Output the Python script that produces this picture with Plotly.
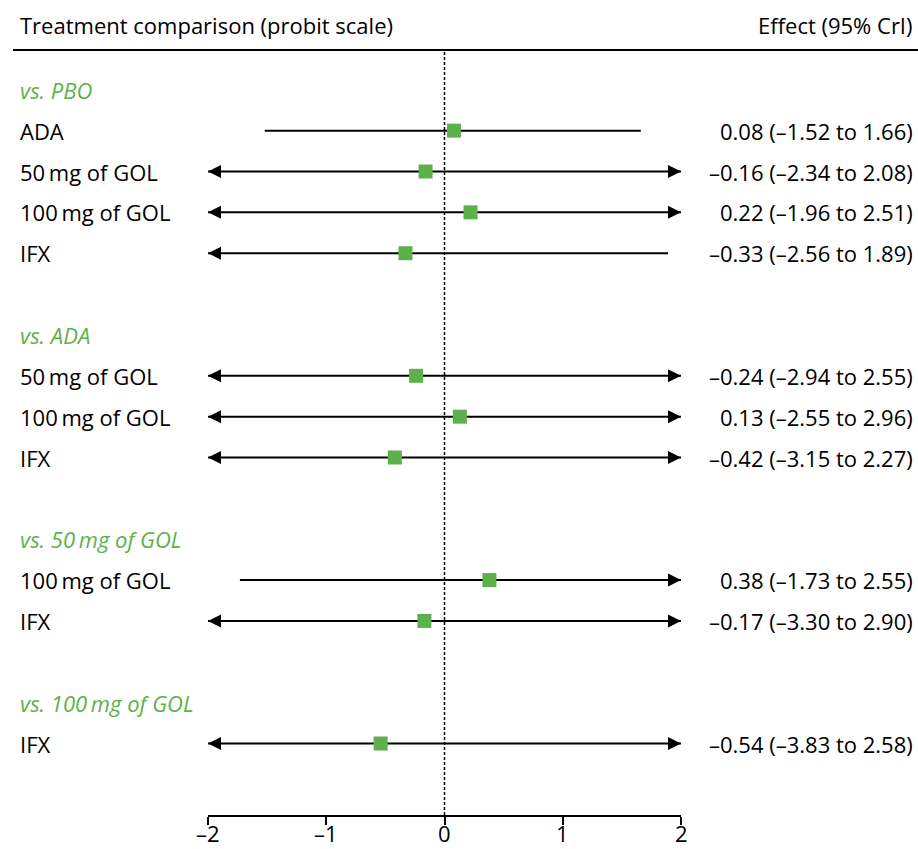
import plotly.graph_objects as go

# ---- data ----
groups = ["vs. PBO", "vs. ADA", "vs. 50\u2009mg of GOL", "vs. 100\u2009mg of GOL"]
group_rows = [0, 6, 11, 15]
labels = ["ADA", "50\u2009mg of GOL", "100\u2009mg of GOL", "IFX",
          "50\u2009mg of GOL", "100\u2009mg of GOL", "IFX",
          "100\u2009mg of GOL", "IFX",
          "IFX"]
rows = [1, 2, 3, 4, 7, 8, 9, 12, 13, 16]
est = [0.08, -0.16, 0.22, -0.33, -0.24, 0.13, -0.42, 0.38, -0.17, -0.54]
lo = [-1.52, -2.34, -1.96, -2.56, -2.94, -2.55, -3.15, -1.73, -3.30, -3.83]
hi = [1.66, 2.08, 2.51, 1.89, 2.55, 2.96, 2.27, 2.55, 2.90, 2.58]
xticks = [-2, -1, 0, 1, 2]
xticktext = ["\u20132", "\u20131", "0", "1", "2"]
xrange_ = [-2, 2]
arrow_cut = 1.95  # intervals reaching beyond this are shown with an arrow

GREEN = "#5DB14A"
FONT = "Open Sans"
FS = 22

W, H = 918, 849
ML, MR, MT, MB = 208, 237, 50, 34


def fmt(v):
    s = f"{abs(v):.2f}"
    return ("\u2013" + s) if v < 0 else s


fig = go.Figure()

# CI lines and arrows
for r, e, a, b in zip(rows, est, lo, hi):
    left_arrow = a < -arrow_cut
    right_arrow = b > arrow_cut
    x0 = xrange_[0] if left_arrow else a
    x1 = xrange_[1] if right_arrow else b
    fig.add_trace(go.Scatter(x=[x0, x1], y=[r, r], mode="lines",
                             line=dict(color="black", width=2),
                             hoverinfo="skip", showlegend=False, cliponaxis=False))
    if left_arrow:
        fig.add_trace(go.Scatter(x=[xrange_[0]], y=[r], mode="markers",
                                 marker=dict(symbol="arrow-left", size=13, color="black"),
                                 hoverinfo="skip", showlegend=False, cliponaxis=False))
    if right_arrow:
        fig.add_trace(go.Scatter(x=[xrange_[1]], y=[r], mode="markers",
                                 marker=dict(symbol="arrow-right", size=13, color="black"),
                                 hoverinfo="skip", showlegend=False, cliponaxis=False))

# point estimates
fig.add_trace(go.Scatter(x=est, y=rows, mode="markers",
                         marker=dict(symbol="square", size=14, color=GREEN, line=dict(width=0)),
                         showlegend=False, cliponaxis=False))

pw = W - ML - MR
ph = H - MT - MB


def xdom(px):
    return (px - ML) / pw


def ydom(py):
    return (H - MB - py) / ph


ann = []
ann.append(dict(text="Treatment comparison (probit scale)", xref="paper", yref="paper",
                x=xdom(18), y=ydom(25), xanchor="left", yanchor="middle", showarrow=False,
                font=dict(family=FONT, size=FS, color="black")))
ann.append(dict(text="Effect (95% CrI)", xref="paper", yref="paper",
                x=xdom(915), y=ydom(25), xanchor="right", yanchor="middle", showarrow=False,
                font=dict(family=FONT, size=FS, color="black")))
for g, r in zip(groups, group_rows):
    ann.append(dict(text=f"<i>{g}</i>", xref="paper", yref="y", x=xdom(18), y=r,
                    xanchor="left", yanchor="middle", showarrow=False,
                    font=dict(family=FONT, size=FS, color=GREEN)))
for lab, r, e, a, b in zip(labels, rows, est, lo, hi):
    ann.append(dict(text=lab, xref="paper", yref="y", x=xdom(18), y=r,
                    xanchor="left", yanchor="middle", showarrow=False,
                    font=dict(family=FONT, size=FS, color="black")))
    ann.append(dict(text=f"{fmt(e)} ({fmt(a)} to {fmt(b)})", xref="paper", yref="y",
                    x=xdom(915), y=r, xanchor="right", yanchor="middle", showarrow=False,
                    font=dict(family=FONT, size=FS, color="black")))
# tick labels
for t, tt in zip(xticks, xticktext):
    ann.append(dict(text=tt, xref="x", yref="paper", x=t, y=ydom(849),
                    xanchor="center", yanchor="bottom", showarrow=False, borderpad=0,
                    font=dict(family=FONT, size=FS, color="black")))

shapes = [
    dict(type="line", xref="x", yref="paper", x0=0, x1=0, y0=0, y1=1,
         line=dict(color="black", width=1.5, dash="3px,2px"), layer="below"),
    dict(type="line", xref="paper", yref="paper", x0=xdom(13), x1=xdom(918), y0=1, y1=1,
         line=dict(color="black", width=2)),
]

top_idx = -0.974
bot_idx = 17.75

fig.update_layout(
    width=W, height=H,
    margin=dict(l=ML, r=MR, t=MT, b=MB, autoexpand=False),
    paper_bgcolor="white", plot_bgcolor="white",
    annotations=ann, shapes=shapes,
    xaxis=dict(range=xrange_, tickvals=xticks, showticklabels=False,
               showgrid=False, zeroline=False, showline=True, linecolor="black", linewidth=2,
               ticks="outside", ticklen=8, tickwidth=2, tickcolor="black", automargin=False,
               fixedrange=True),
    yaxis=dict(range=[bot_idx, top_idx], visible=False, showgrid=False, zeroline=False,
               fixedrange=True, automargin=False),
    font=dict(family=FONT, size=FS, color="black"),
)

fig.write_html("out.html", config={"displayModeBar": False},
               post_script="document.body.style.margin='0';")
